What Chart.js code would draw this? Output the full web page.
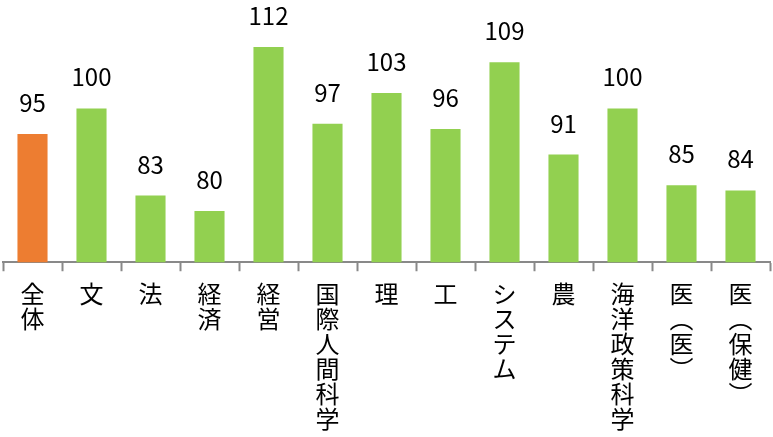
<!DOCTYPE html>
<html lang="ja">
<head>
  <meta charset="utf-8">
  <script src="https://cdn.jsdelivr.net/npm/chart.js@4/dist/chart.umd.min.js"></script>
  <style>
    html, body { margin: 0; padding: 0; background: #fff; }
    .chart-area { width: 773px; height: 437px; position: relative; }
  </style>
</head>
<body>
  <div class="chart-area">
    <canvas id="score-chart"></canvas>
  </div>

<script>
  // カテゴリ（縦書き用に1文字ずつ改行）
  const categories = ['全体', '文', '法', '経済', '経営', '国際人間科学', '理', '工', 'システム', '農', '海洋政策科学', '医︵医︶', '医︵保健︶'];
  const scores = [95, 100, 83, 80, 112, 97, 103, 96, 109, 91, 100, 85, 84];
  const barColors = ['#ED7D31', '#92D050', '#92D050', '#92D050', '#92D050', '#92D050', '#92D050', '#92D050', '#92D050', '#92D050', '#92D050', '#92D050', '#92D050'];

  const FONT = '"Noto Sans CJK JP", "Noto Sans", sans-serif';

  // 棒の上に値を描く
  const valueLabels = {
    id: 'valueLabels',
    afterDatasetsDraw(chart) {
      const ctx = chart.ctx;
      const meta = chart.getDatasetMeta(0);
      ctx.save();
      ctx.font = '24px ' + FONT;
      ctx.fillStyle = '#000';
      ctx.textAlign = 'center';
      ctx.textBaseline = 'alphabetic';
      meta.data.forEach(function (bar, i) {
        ctx.fillText(String(scores[i]), bar.x, bar.y - 22);
      });
      ctx.restore();
    }
  };

  const chartData = {
    labels: categories.map(function (c) { return Array.from(c); }),
    datasets: [{
      data: scores,
      backgroundColor: barColors,
      borderWidth: 0,
      barPercentage: 0.51,
      categoryPercentage: 1.0,
    }]
  };

  const barConfig = {
    type: 'bar',
    data: chartData,
    options: {
      responsive: true,
      maintainAspectRatio: false,
      animation: false,
      layout: { padding: { left: 3, right: 3, top: 6, bottom: -4 } },
      plugins: {
        legend: { display: false },
        tooltip: { enabled: false },
      },
      scales: {
        x: {
          grid: {
            offset: true,
            drawOnChartArea: false,
            drawTicks: true,
            tickLength: 9,
            tickColor: '#898989',
            tickWidth: 2,
          },
          border: { display: true, color: '#898989', width: 2 },
          ticks: {
            autoSkip: false,
            maxRotation: 0,
            minRotation: 0,
            padding: 10,
            color: '#000',
            font: { family: FONT, size: 24, lineHeight: 1.04 },
          },
        },
        y: {
          display: false,
          min: 70,
          max: 120,
        }
      }
    },
    plugins: [valueLabels],
  };

  new Chart(document.getElementById('score-chart').getContext('2d'), barConfig);
</script>
</body>
</html>
